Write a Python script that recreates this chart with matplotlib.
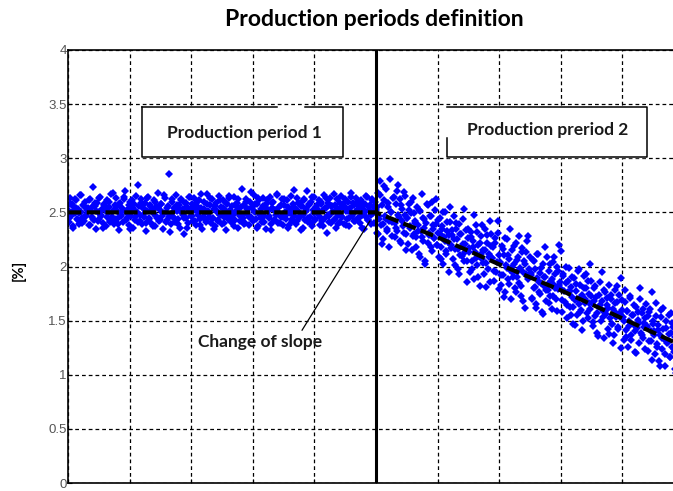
import numpy as np
import matplotlib
matplotlib.use("Agg")
import matplotlib.pyplot as plt

# period 1 : flat production (~2.5 %), two interleaved sample sets
y_period1 = [
    2.52, 2.41, 2.63, 2.47, 2.58, 2.36, 2.55, 2.49, 2.61, 2.44, 2.53, 2.39, 2.66, 2.50, 2.45, 2.57, 2.42, 2.60, 2.48, 2.54,
    2.38, 2.62, 2.51, 2.46, 2.73, 2.43, 2.56, 2.35, 2.59, 2.50, 2.44, 2.64, 2.47, 2.53, 2.40, 2.58, 2.52, 2.37, 2.61, 2.49,
    2.55, 2.42, 2.67, 2.46, 2.51, 2.39, 2.57, 2.63, 2.44, 2.50, 2.34, 2.59, 2.48, 2.54, 2.41, 2.62, 2.70, 2.45, 2.53, 2.38,
    2.60, 2.47, 2.52, 2.36, 2.58, 2.43, 2.65, 2.50, 2.41, 2.56, 2.48, 2.62, 2.39, 2.54, 2.46, 2.59, 2.33, 2.51, 2.64, 2.44,
    2.57, 2.40, 2.53, 2.49, 2.61, 2.37, 2.55, 2.45, 2.68, 2.42, 2.52, 2.58, 2.47, 2.35, 2.63, 2.50, 2.43, 2.56, 2.85, 2.48,
    2.39, 2.60, 2.46, 2.54, 2.41, 2.66, 2.51, 2.44, 2.57, 2.36, 2.62, 2.49, 2.53, 2.30, 2.59, 2.45, 2.55, 2.40, 2.64, 2.50,
    2.47, 2.58, 2.42, 2.63, 2.52, 2.38, 2.56, 2.48, 2.61, 2.44, 2.54, 2.35, 2.60, 2.49, 2.43, 2.67, 2.51, 2.46, 2.57, 2.40,
    2.62, 2.45, 2.53, 2.37, 2.59, 2.50, 2.42, 2.65, 2.48, 2.55, 2.39, 2.61, 2.46, 2.52, 2.34, 2.58, 2.44, 2.63, 2.50, 2.41,
    2.56, 2.48, 2.64, 2.43, 2.51, 2.59, 2.36, 2.54, 2.47, 2.72, 2.45, 2.57, 2.40, 2.62, 2.49, 2.53, 2.38, 2.60, 2.46, 2.55,
    2.42, 2.66, 2.50, 2.44, 2.58, 2.37, 2.61, 2.48, 2.53, 2.41, 2.63, 2.47, 2.56, 2.35, 2.59, 2.51, 2.45, 2.64, 2.39, 2.54,
    2.60, 2.43, 2.52, 2.48, 2.67, 2.40, 2.55, 2.46, 2.62, 2.38, 2.57, 2.50, 2.44, 2.61, 2.36, 2.53, 2.49, 2.65, 2.42, 2.58,
    2.47, 2.54, 2.39, 2.63, 2.51, 2.45, 2.59, 2.34, 2.56, 2.48, 2.62, 2.43, 2.53, 2.70, 2.41, 2.57, 2.46, 2.60, 2.37, 2.52,
    2.64, 2.44, 2.55, 2.49, 2.61, 2.38, 2.58, 2.42, 2.52, 2.66, 2.45, 2.54, 2.31, 2.59, 2.47, 2.63, 2.40, 2.56, 2.50, 2.43,
    2.57, 2.36, 2.62, 2.48, 2.53, 2.41, 2.65, 2.46, 2.58, 2.39, 2.55, 2.51, 2.44, 2.60, 2.37, 2.54, 2.68, 2.47, 2.59, 2.42,
    2.50, 2.63, 2.45, 2.56, 2.40, 2.61, 2.48, 2.53, 2.35, 2.58, 2.46, 2.64, 2.43, 2.52, 2.57, 2.39, 2.62, 2.49, 2.55, 2.60,
]
y_period1b = [
    2.45, 2.58, 2.50, 2.37, 2.62, 2.54, 2.43, 2.49, 2.66, 2.40, 2.56, 2.47, 2.52, 2.61, 2.38, 2.55, 2.44, 2.59, 2.51, 2.42,
    2.63, 2.48, 2.36, 2.57, 2.53, 2.46, 2.60, 2.41, 2.50, 2.68, 2.44, 2.55, 2.39, 2.58, 2.47, 2.52, 2.64, 2.43, 2.49, 2.57,
    2.35, 2.61, 2.54, 2.46, 2.50, 2.75, 2.42, 2.59, 2.48, 2.53, 2.40, 2.63, 2.45, 2.56, 2.51, 2.37, 2.60, 2.47, 2.55, 2.43,
    2.58, 2.49, 2.66, 2.41, 2.54, 2.46, 2.32, 2.62, 2.50, 2.44, 2.57, 2.39, 2.53, 2.61, 2.48, 2.45, 2.59, 2.36, 2.52, 2.64,
    2.47, 2.55, 2.42, 2.60, 2.50, 2.38, 2.67, 2.46, 2.53, 2.41, 2.58, 2.49, 2.63, 2.44, 2.35, 2.56, 2.51, 2.43, 2.61, 2.48,
    2.54, 2.40, 2.59, 2.47, 2.65, 2.52, 2.45, 2.37, 2.57, 2.50, 2.62, 2.42, 2.55, 2.48, 2.39, 2.60, 2.53, 2.46, 2.69, 2.44,
    2.51, 2.58, 2.36, 2.63, 2.49, 2.45, 2.56, 2.41, 2.54, 2.61, 2.47, 2.34, 2.59, 2.52, 2.43, 2.66, 2.50, 2.40, 2.57, 2.46,
    2.62, 2.48, 2.55, 2.38, 2.53, 2.44, 2.71, 2.50, 2.42, 2.59, 2.47, 2.56, 2.36, 2.61, 2.51, 2.45, 2.58, 2.40, 2.64, 2.49,
    2.43, 2.57, 2.52, 2.46, 2.60, 2.37, 2.54, 2.63, 2.48, 2.41, 2.56, 2.50, 2.67, 2.44, 2.53, 2.39, 2.59, 2.47, 2.55, 2.62,
    2.38, 2.51, 2.45, 2.64, 2.49, 2.57, 2.42, 2.60, 2.53, 2.46, 2.36, 2.58, 2.50, 2.65, 2.43, 2.55, 2.48, 2.61, 2.40, 2.54,
]

# period 2 : declining production, two interleaved sample sets
y_period2 = [
    2.52, 2.31, 2.68, 2.44, 2.79, 2.38, 2.57, 2.25, 2.61, 2.47, 2.72, 2.35, 2.55, 2.42, 2.81, 2.50, 2.28, 2.64, 2.40, 2.58,
    2.33, 2.75, 2.46, 2.62, 2.22, 2.53, 2.37, 2.69, 2.48, 2.30,
    2.45, 2.21, 2.58, 2.36, 2.49, 2.15, 2.63, 2.30, 2.42, 2.27, 2.55, 2.38, 2.12, 2.51, 2.33, 2.67, 2.24, 2.44, 2.05, 2.40,
    2.57, 2.29, 2.47, 2.18, 2.60, 2.35, 2.26, 2.52, 2.39, 2.20,
    2.31, 2.09, 2.45, 2.18, 2.37, 2.02, 2.27, 2.50, 2.14, 2.33, 2.23, 1.95, 2.41, 2.20, 2.29, 2.07, 2.47, 2.16, 2.35, 2.25,
    1.98, 2.39, 2.11, 2.30, 2.21, 2.53, 2.13, 2.34, 2.05, 2.26,
    2.17, 1.95, 2.32, 2.05, 2.24, 1.88, 2.13, 2.38, 2.01, 2.20, 2.10, 1.82, 2.28, 2.07, 2.15, 1.93, 2.35, 2.03, 2.22, 1.98,
    2.12, 1.86, 2.30, 2.08, 2.18, 1.96, 2.26, 2.04, 2.42, 2.11,
    2.04, 1.83, 2.19, 1.92, 2.11, 1.76, 2.01, 2.25, 1.88, 2.07, 1.97, 1.70, 2.15, 1.94, 2.02, 1.80, 2.22, 1.90, 2.09, 1.85,
    1.99, 1.73, 2.17, 1.95, 2.05, 1.62, 2.13, 1.91, 2.28, 1.98,
    1.92, 1.71, 2.06, 1.80, 1.98, 1.65, 1.89, 2.12, 1.76, 1.94, 1.85, 1.58, 2.02, 1.82, 1.90, 1.68, 2.09, 1.78, 1.96, 1.73,
    1.87, 1.61, 2.04, 1.83, 1.93, 1.70, 2.00, 1.79, 2.20, 1.86,
    1.79, 1.58, 1.93, 1.67, 1.85, 1.52, 1.76, 1.99, 1.63, 1.81, 1.72, 1.47, 1.89, 1.69, 1.77, 1.55, 1.96, 1.65, 1.83, 1.60,
    1.74, 1.50, 1.91, 1.70, 1.80, 1.57, 1.87, 1.66, 2.02, 1.73,
    1.66, 1.45, 1.80, 1.54, 1.72, 1.39, 1.63, 1.86, 1.50, 1.68, 1.59, 1.34, 1.76, 1.56, 1.64, 1.42, 1.83, 1.52, 1.70, 1.47,
    1.61, 1.37, 1.78, 1.57, 1.67, 1.44, 1.74, 1.53, 1.89, 1.60,
    1.53, 1.32, 1.67, 1.41, 1.59, 1.26, 1.50, 1.73, 1.37, 1.55, 1.46, 1.21, 1.63, 1.43, 1.51, 1.29, 1.70, 1.39, 1.57, 1.34,
    1.48, 1.24, 1.65, 1.44, 1.54, 1.31, 1.61, 1.40, 1.76, 1.47,
    1.40, 1.19, 1.54, 1.28, 1.46, 1.13, 1.37, 1.60, 1.24, 1.42, 1.33, 1.08, 1.50, 1.30, 1.38, 1.16, 1.57, 1.26, 1.44, 1.21,
    1.35, 1.02, 1.52, 1.31, 1.41, 1.18, 1.48, 1.27, 1.63, 1.34,
]
y_period2b = [
    2.55, 2.30, 2.47, 2.66, 2.21, 2.39, 2.74, 2.44, 2.33, 2.59, 2.18, 2.50, 2.41, 2.63, 2.27, 2.36, 2.70, 2.48, 2.24, 2.57,
    2.42, 2.31, 2.65, 2.15, 2.45, 2.52, 2.37, 2.60, 2.28, 2.49,
    2.40, 2.18, 2.33, 2.52, 2.09, 2.27, 2.45, 2.36, 2.02, 2.58, 2.22, 2.31, 2.47, 2.14, 2.38, 2.26, 2.62, 2.20, 2.43, 2.30,
    2.07, 2.35, 2.50, 2.24, 2.12, 2.41, 2.29, 2.55, 2.17, 2.34,
    2.25, 2.01, 2.40, 2.16, 1.93, 2.30, 2.10, 2.44, 2.05, 2.21, 1.86, 2.35, 2.13, 2.27, 1.98, 2.18, 2.48, 2.08, 2.32, 1.90,
    2.22, 2.12, 2.38, 2.03, 2.15, 1.81, 2.29, 2.09, 2.42, 2.19,
    2.08, 1.87, 2.22, 1.95, 2.31, 1.79, 2.03, 1.92, 2.16, 1.72, 2.26, 1.99, 2.11, 1.84, 2.35, 2.00, 1.90, 2.19, 1.76, 2.06,
    1.96, 2.28, 1.82, 2.13, 1.68, 2.02, 1.93, 2.24, 1.88, 2.09,
    1.94, 1.70, 2.05, 1.81, 1.62, 2.12, 1.86, 1.75, 1.99, 1.56, 1.90, 2.18, 1.78, 1.84, 1.66, 2.02, 1.88, 1.73, 2.09, 1.80,
    1.59, 1.96, 1.83, 2.14, 1.69, 1.91, 1.77, 2.00, 1.64, 1.87,
    1.77, 1.55, 1.90, 1.63, 1.46, 1.84, 1.70, 1.98, 1.58, 1.72, 1.41, 1.80, 1.66, 1.93, 1.52, 1.75, 1.61, 1.87, 1.49, 1.68,
    1.82, 1.57, 1.36, 1.74, 1.64, 1.95, 1.53, 1.78, 1.60, 1.71,
    1.62, 1.38, 1.74, 1.47, 1.29, 1.66, 1.53, 1.82, 1.42, 1.57, 1.25, 1.69, 1.50, 1.78, 1.35, 1.59, 1.45, 1.71, 1.32, 1.55,
    1.64, 1.40, 1.20, 1.58, 1.48, 1.80, 1.37, 1.61, 1.44, 1.52,
    1.45, 1.22, 1.58, 1.31, 1.14, 1.50, 1.37, 1.66, 1.26, 1.41, 1.08, 1.53, 1.34, 1.62, 1.19, 1.43, 1.29, 1.55, 1.16, 1.39,
    1.48, 1.24, 1.05, 1.42, 1.33, 1.60, 1.21, 1.46, 1.28, 1.36,
]

# fitted trend (dashed)
trend_x = [0, 5, 6, 7, 8, 9, 10]
trend_y = [2.5, 2.5, 2.27, 2.02, 1.78, 1.52, 1.26]

change_x = 5
yticks = [0, 0.5, 1, 1.5, 2, 2.5, 3, 3.5, 4]
ytick_labels = ['0', '0.5', '1', '1.5', '2', '2.5', '3', '3.5', '4']

x1 = np.linspace(0, change_x, len(y_period1), endpoint=False)
x1b = np.linspace(0.01, change_x - 0.01, len(y_period1b))
x2 = np.linspace(change_x, 10, len(y_period2))
x2b = np.linspace(change_x + 0.01, 10, len(y_period2b))

fig = plt.figure(figsize=(6.73, 4.91), dpi=100)
ax = fig.add_axes([68/673, 8/491, 616/673, 433/491])

mk = dict(ls='none', marker='D', color='#0000ff', ms=4, mew=0, zorder=2)
ax.plot(x1, y_period1, **mk)
ax.plot(x1b, y_period1b, **mk)
ax.plot(x2, y_period2, **mk)
ax.plot(x2b, y_period2b, **mk)
ax.plot(trend_x, trend_y, color='k', lw=3, dashes=(3.2, 1.3), zorder=3)
ax.axvline(change_x, color='k', lw=2.2, zorder=4)

ax.set_xlim(0, 10)
ax.set_ylim(0, 4)
ax.set_xticks(range(11))
ax.set_xticklabels([])
ax.set_yticks(yticks)
ax.set_yticklabels(ytick_labels, family='Liberation Sans', fontsize=9.5, color='#555555')
ax.tick_params(axis='both', direction='in', length=3, pad=1)
ax.grid(True, color='k', lw=0.9, linestyle=(0, (3, 2.4)))
for s in ax.spines.values():
    s.set_linewidth(1.2)

fig.text(374/673, 1 - 19/491, 'Production periods definition', family='Lato', fontweight='bold',
         fontsize=16.5, ha='center', va='center')
fig.text(19/673, 1 - 270/491, '[%]', rotation=90, family='Lato', fontweight='bold', fontsize=10.5,
         ha='center', va='center')

# text boxes (with the small gaps seen in the original drawing)
bx = dict(color='k', lw=1.1, transform=ax.transAxes, clip_on=False, zorder=5)
tx = dict(transform=ax.transAxes, ha='center', va='center', family='Lato', fontweight='bold',
          fontsize=12.5, color='#1a1a1a', zorder=6)

ax.fill([0.120, 0.446, 0.446, 0.120], [0.753, 0.753, 0.868, 0.868], color='white', transform=ax.transAxes, zorder=4)
ax.plot([0.120, 0.120, 0.446, 0.446, 0.385], [0.868, 0.753, 0.753, 0.868, 0.868], **bx)
ax.plot([0.120, 0.339], [0.868, 0.868], **bx)
ax.text(0.287, 0.808, 'Production period 1', **tx)

ax.fill([0.615, 0.940, 0.940, 0.615], [0.753, 0.753, 0.868, 0.868], color='white', transform=ax.transAxes, zorder=4)
ax.plot([0.615, 0.615, 0.940, 0.940, 0.615], [0.797, 0.753, 0.753, 0.868, 0.868], **bx)
ax.text(0.779, 0.815, 'Production preriod 2', **tx)

ax.plot([0.380, 0.490], [0.353, 0.605], color='k', lw=0.9, transform=ax.transAxes, zorder=5)
ax.text(0.312, 0.326, 'Change of slope', **tx)

plt.savefig('out.png', dpi=100)
